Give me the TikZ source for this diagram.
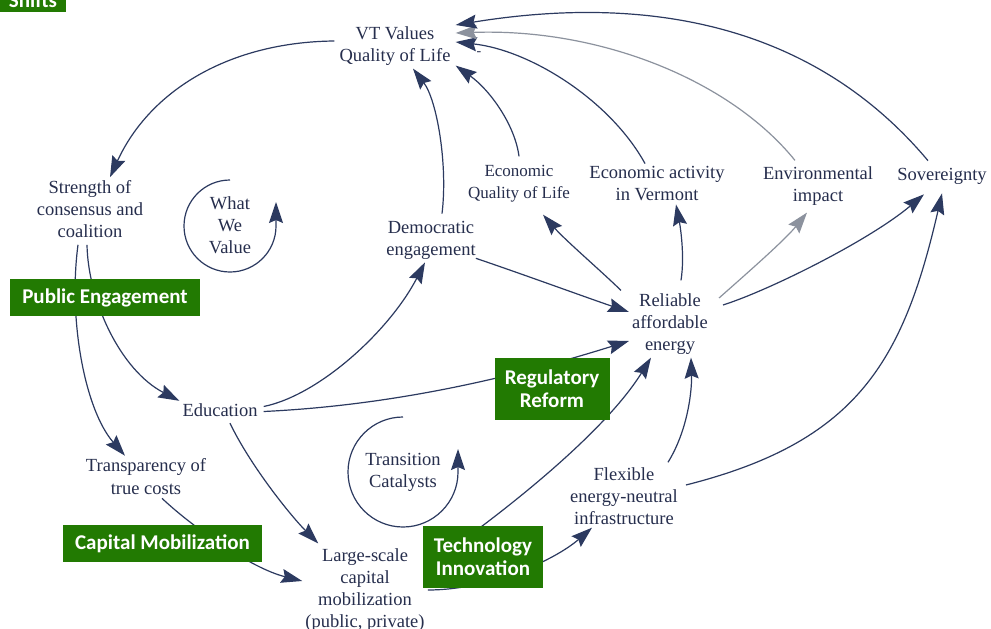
\documentclass[tikz,border=0pt]{standalone}
\usepackage{fontspec}
\setmainfont{Liberation Serif}
\newfontfamily\serifnode{Liberation Serif}
\newfontfamily\boxfont{Carlito}
\usetikzlibrary{arrows.meta}
\definecolor{gr}{RGB}{34,122,2}
\definecolor{tc}{RGB}{38,46,77}
\definecolor{ec}{RGB}{44,58,96}
\definecolor{gc}{RGB}{140,146,158}
\begin{document}
\begin{tikzpicture}[x=1pt,y=-1pt,
  txt/.style={align=center,text=tc,font=\serifnode\fontsize{18.5}{22}\selectfont,inner sep=3pt},
  gbox/.style={fill=gr,text=white,font=\boxfont\bfseries\fontsize{21}{23}\selectfont,align=center,inner sep=0pt},
  link/.style={draw=ec,line width=1.2pt,-{Stealth[length=21pt,width=14pt,inset=3pt]}},
  glink/.style={draw=gc,line width=1.2pt,-{Stealth[length=21pt,width=14pt,inset=3pt]}}]
\fill[white] (0,0) rectangle (991,629);
\useasboundingbox (0,0) rectangle (991,629);

% text nodes
\node[txt,inner xsep=5pt] (vt) at (395,46) {VT Values\\Quality of Life};
\node[txt] (strength) at (90,209) {Strength of\\consensus and\\coalition};
\node[txt] (what) at (230,225) {What\\We\\Value};
\node[txt] (dem) at (431,240) {Democratic\\engagement};
\node[txt,font=\serifnode\fontsize{17}{22}\selectfont] (ecoqol) at (519,184) {Economic\\Quality of Life};
\node[txt] (econact) at (657,184) {Economic activity\\in Vermont};
\node[txt] (env) at (818,186) {Environmental\\impact};
\node[txt] (sov) at (942,176) {Sovereignty};
\node[txt] (rel) at (670,324) {Reliable\\affordable\\energy};
\node[txt] (edu) at (220,410.5) {Education};
\node[txt,font=\serifnode\fontsize{18.5}{23}\selectfont] (transp) at (146,477) {Transparency of\\true costs};
\node[txt] (trans) at (403,472) {Transition\\Catalysts};
\node[txt] (large) at (365,590) {Large-scale\\capital\\mobilization\\(public, private)};
\node[txt] (flex) at (624,496) {Flexible\\energy-neutral\\infrastructure};
\node[text=tc,font=\serifnode\fontsize{14}{16}\selectfont,inner sep=0pt] (minus) at (479,54) {-};

% loops
\draw[link] (230,180) arc[start angle=90,end angle=360,radius=46pt] -- ++(0,-24);
\draw[link] (403,417) arc[start angle=90,end angle=360,radius=55pt] -- ++(0,-23);

% connectors
\draw[link] ([yshift=5pt]vt.west) .. controls (230,42) and (150,90) .. ([xshift=20pt]strength.north);
\draw[link] ([xshift=-3pt,yshift=-4pt]strength.south) .. controls (88,300) and (120,370) .. (edu.north west);
\draw[link] ([xshift=-12pt,yshift=-4pt]strength.south) .. controls (68,320) and (85,410) .. ([xshift=-21pt]transp.north);
\draw[link] ([xshift=16pt]transp.south) .. controls (190,525) and (250,568) .. ([yshift=9pt]large.west);
\draw[link] ([xshift=10pt,yshift=-3pt]edu.south) .. controls (250,465) and (290,515) .. ([xshift=16pt,yshift=2pt]large.north west);
\draw[link] ([xshift=3pt,yshift=4pt]edu.east) .. controls (320,395) and (390,330) .. ([xshift=-6pt]dem.south);
\draw[link] ([xshift=3pt,yshift=-1pt]edu.east) .. controls (400,405) and (520,375) .. ([yshift=-17pt]rel.west);
\draw[link] ([xshift=11pt,yshift=4pt]dem.north) .. controls (448,165) and (437,100) .. ([xshift=18pt]vt.south);
\draw[link] ([xshift=-3pt,yshift=4pt]dem.south east) .. controls (525,275) and (585,297) .. ([yshift=12pt]rel.west);
\draw[link] ([xshift=-8pt]rel.north west) .. controls (600,270) and (565,240) .. ([xshift=24pt,yshift=-9pt]ecoqol.south);
\draw[link] ([xshift=11pt,yshift=10pt]rel.north) .. controls (685,255) and (680,225) .. ([xshift=19pt]econact.south);
\draw[glink] ([xshift=8pt,yshift=26pt]rel.east) .. controls (745,275) and (785,240) .. ([xshift=-11pt,yshift=-4pt]env.south);
\draw[link] ([xshift=12pt,yshift=19pt]rel.east) .. controls (770,290) and (870,240) .. ([xshift=-18pt,yshift=-7pt]sov.south);
\draw[link] ([yshift=6pt]ecoqol.north) .. controls (515,125) and (490,90) .. ([yshift=3pt]vt.south east);
\draw[link] ([xshift=-12pt]econact.north) .. controls (610,100) and (530,50) .. ([yshift=4pt]vt.east);
\draw[glink] ([xshift=-23pt,yshift=3pt]env.north) .. controls (730,80) and (600,28) .. ([yshift=13pt]vt.east);
\draw[link] ([xshift=-14pt,yshift=4pt]sov.north) .. controls (810,20) and (640,-5) .. ([yshift=21pt]vt.east);
\draw[link] ([xshift=5pt,yshift=11pt]flex.east) .. controls (856,442) and (903,363) .. ([yshift=-6pt]sov.south);
\draw[link] ([xshift=44pt,yshift=2pt]flex.north) .. controls (688,430) and (692,390) .. ([xshift=21pt]rel.south);
\draw[link] ([yshift=25pt]large.east) .. controls (480,530) and (600,440) .. ([xshift=-19pt]rel.south);
\draw[link] (large.east) .. controls (490,590) and (555,560) .. ([xshift=-32pt]flex.south);

% green labels
\node[gbox,minimum width=190pt,minimum height=37pt] (pe) at (105,297.5) {Public Engagement};
\node[gbox,minimum width=115pt,minimum height=62pt] (rr) at (552,389) {Regulatory\\Reform};
\node[gbox,minimum width=199pt,minimum height=37pt] (cm) at (162.5,543.5) {Capital Mobilization};
\node[gbox,minimum width=120pt,minimum height=62pt] (ti) at (483,557) {Technology\\Innovation};
\node[gbox,minimum width=66pt,minimum height=24pt,anchor=south] (sh) at (33,12) {Shifts};
\end{tikzpicture}
\end{document}
